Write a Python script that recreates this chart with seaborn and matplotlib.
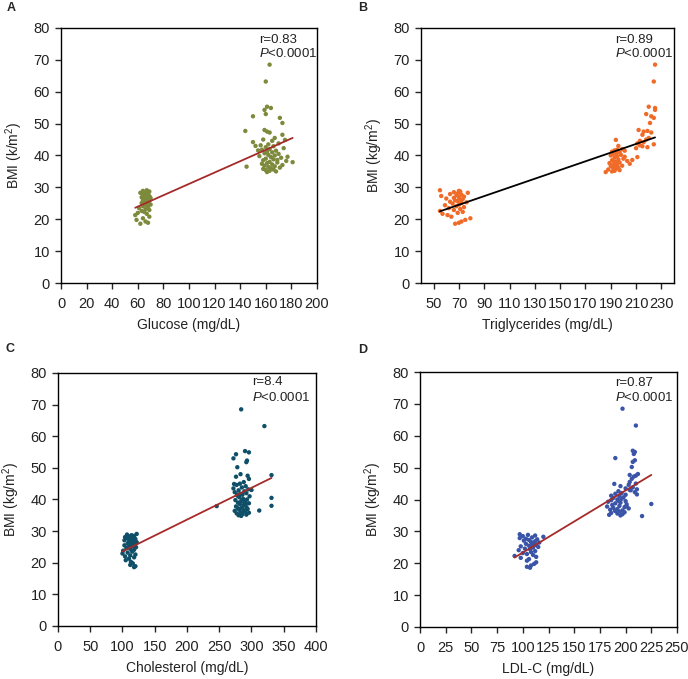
import numpy as np
import pandas as pd
import seaborn as sns
import matplotlib.pyplot as plt

# BMI values (same patients in every panel): lean group and obese group
bmi_low = [18.6, 18.9, 19.3, 19.8, 20.3, 20.8, 21.3, 21.7, 22.0, 22.3,
           22.6, 22.9, 23.2, 23.5, 23.8, 24.1, 24.4, 24.6, 24.9, 25.1,
           25.3, 25.5, 25.7, 25.9, 26.1, 26.3, 26.5, 26.7, 26.9, 27.1,
           27.3, 27.5, 27.7, 27.9, 28.1, 28.3, 28.5, 28.7, 28.9, 29.1]
bmi_high = [68.5, 63.2, 55.3, 54.9, 54.3, 53.0, 52.3, 51.8, 50.2, 48.0,
            47.7, 47.5, 47.2, 46.5, 45.5, 45.0, 44.6, 44.2, 43.8, 43.5,
            43.2, 42.9, 42.6, 42.3, 42.0, 41.8, 41.5, 41.2, 41.0, 40.7,
            40.5, 40.2, 40.0, 39.8, 39.5, 39.3, 39.0, 38.8, 38.5, 38.3,
            38.0, 37.8, 37.6, 37.4, 37.2, 37.0, 36.8, 36.6, 36.4, 36.2,
            36.0, 35.8, 35.6, 35.4, 35.2, 35.0, 34.8, 36.5, 37.9, 39.6,
            41.6, 43.0, 44.9, 38.6]

# Glucose (mg/dL)
glu_low = [62, 68, 66, 59, 64, 69, 58, 67, 60, 65, 63, 69, 66, 61, 68, 64, 67, 70, 65, 63,
           68, 66, 69, 64, 67, 65, 68, 70, 63, 66, 69, 64, 67, 65, 68, 62, 66, 69, 64, 67]
glu_high = [163, 160, 161, 164, 159, 160, 150, 171, 173, 159, 144, 161, 163, 173, 167, 158,
            165, 150, 170, 162, 156, 166, 160, 174, 163, 157, 168, 161, 165, 159, 170, 162,
            167, 155, 164, 172, 160, 166, 158, 176, 163, 169, 161, 157, 165, 173, 159, 167,
            162, 171, 164, 158, 166, 160, 163, 168, 161, 145, 181, 177, 154, 152, 175, 169]

# Triglycerides (mg/dL)
tg_low = [67, 70, 72, 75, 79, 64, 61, 57, 69, 73, 55, 66, 71, 62, 74, 68, 59, 70, 65, 72,
          76, 63, 69, 67, 71, 73, 60, 66, 70, 74, 56, 68, 72, 63, 69, 77, 66, 71, 70, 55]
tg_high = [225, 224, 220, 225, 225, 218, 222, 224, 221, 212, 219, 216, 222, 215, 220, 218,
           213, 216, 211, 224, 213, 215, 219, 210, 199, 195, 201, 191, 197, 194, 192, 198,
           190, 195, 211, 193, 200, 196, 191, 203, 194, 197, 189, 205, 192, 195, 199, 190,
           193, 196, 192, 194, 188, 197, 193, 191, 186, 195, 193, 201, 193, 196, 194, 207]

# Cholesterol (mg/dL)
chol_low = [118, 120, 112, 116, 113, 105, 110, 118, 104, 112, 120, 100, 108, 115, 101, 118,
            112, 106, 121, 110, 116, 103, 119, 113, 108, 115, 122, 110, 117, 103, 113, 120,
            108, 116, 104, 111, 118, 114, 107, 122]
chol_high = [284, 320, 290, 296, 276, 272, 293, 292, 278, 283, 331, 294, 276, 296, 288, 282,
             277, 291, 285, 272, 295, 280, 289, 274, 292, 283, 286, 278, 297, 281, 331, 287,
             293, 275, 284, 290, 279, 296, 282, 288, 331, 276, 292, 285, 279, 294, 281, 288,
             274, 290, 283, 296, 277, 286, 292, 280, 284, 312, 246, 287, 278, 300, 273, 291]

# LDL-C (mg/dL)
ldl_low = [107, 104, 108, 111, 113, 104, 106, 98, 113, 92, 110, 104, 100, 108, 112, 96,
           107, 102, 110, 115, 98, 106, 113, 109, 103, 111, 116, 108, 112, 101, 106, 114,
           103, 97, 109, 120, 100, 112, 105, 97]
ldl_high = [197, 210, 207, 209, 208, 190, 209, 207, 206, 212, 204, 210, 208, 206, 204, 210,
            203, 195, 207, 200, 211, 205, 193, 209, 196, 190, 200, 186, 194, 198, 188, 196,
            192, 186, 200, 183, 195, 190, 201, 187, 194, 182, 199, 188, 203, 192, 185, 197,
            190, 194, 199, 186, 192, 197, 184, 195, 216, 190, 201, 193, 211, 204, 189, 225]

panel_letters = ["A", "B", "C", "D"]
x_labels = ["Glucose (mg/dL)", "Triglycerides (mg/dL)", "Cholesterol (mg/dL)", "LDL-C (mg/dL)"]
y_labels = ["BMI (k/m$^2$)", "BMI (kg/m$^2$)", "BMI (kg/m$^2$)", "BMI (kg/m$^2$)"]
r_texts = ["r=0.83", "r=0.89", "r=8.4", "r=0.87"]

sns.set_style("ticks")
plt.rcParams['font.family'] = ['Liberation Sans', 'DejaVu Sans']
plt.rcParams['mathtext.fontset'] = 'custom'
plt.rcParams['mathtext.rm'] = 'Liberation Sans'
plt.rcParams['mathtext.it'] = 'Liberation Sans:italic'

fig = plt.figure(figsize=(6.88, 6.79), dpi=100)

panels = [
    dict(x=glu_low + glu_high, pos=[0.0887, 0.5832, 0.372, 0.3756], xlim=(0, 200),
         xticks=np.arange(0, 201, 20), color="#7d8a3c", line="#a52a2a",
         txt=(0.773, 0.953, 0.898), letter=(7, 8)),
    dict(x=tg_low + tg_high, pos=[0.6119, 0.5832, 0.3678, 0.3756], xlim=(40, 240),
         xticks=np.arange(50, 231, 20), color="#f06a28", line="#000000",
         txt=(0.767, 0.953, 0.898), letter=(358, 8)),
    dict(x=chol_low + chol_high, pos=[0.0843, 0.0781, 0.375, 0.3726], xlim=(0, 400),
         xticks=np.arange(0, 401, 50), color="#0f4f68", line="#a52a2a",
         txt=(0.752, 0.964, 0.905), letter=(5, 349)),
    dict(x=ldl_low + ldl_high, pos=[0.6105, 0.0766, 0.3735, 0.3755], xlim=(0, 250),
         xticks=np.arange(0, 251, 25), color="#3a54a8", line="#a52a2a",
         txt=(0.759, 0.957, 0.902), letter=(358, 350)),
]

bmi = bmi_low + bmi_high
for i, p in enumerate(panels):
    ax = fig.add_axes(p["pos"])
    df = pd.DataFrame({"x": p["x"], "bmi": bmi})
    sns.scatterplot(data=df, x="x", y="bmi", ax=ax, color=p["color"], s=10,
                    linewidth=0, edgecolor="none")
    sns.regplot(data=df, x="x", y="bmi", ax=ax, scatter=False, ci=None,
                line_kws=dict(color=p["line"], lw=1.3))
    ax.set_xlim(*p["xlim"])
    ax.set_ylim(0, 80)
    ax.set_xticks(p["xticks"])
    ax.set_yticks(np.arange(0, 81, 10))
    for s in ax.spines.values():
        s.set_linewidth(1.0)
        s.set_color("black")
    ax.tick_params(axis="x", direction="out", length=4, width=1.0, pad=6, labelsize=10.5,
                   labelcolor="#222222")
    ax.tick_params(axis="y", direction="out", length=4, width=1.0, pad=4, labelsize=10.5,
                   labelcolor="#222222")
    ax.set_xlabel(x_labels[i], fontsize=10, labelpad=5, color="#222222")
    ax.set_ylabel(y_labels[i], fontsize=10, labelpad=6, color="#222222")
    tx, ry, py = p["txt"]
    ax.text(tx, ry, r_texts[i], transform=ax.transAxes, fontsize=9.5, va="center", ha="left",
            color="#222222")
    ax.text(tx, py, "$\\it{P}$<0.0001", transform=ax.transAxes, fontsize=9.5,
            va="center", ha="left", color="#222222")
    lx, ly = p["letter"]
    fig.text(lx / 688, 1 - ly / 679, panel_letters[i], fontsize=9, fontweight="bold",
             va="center", ha="left")

fig.savefig("out.png", dpi=100)
